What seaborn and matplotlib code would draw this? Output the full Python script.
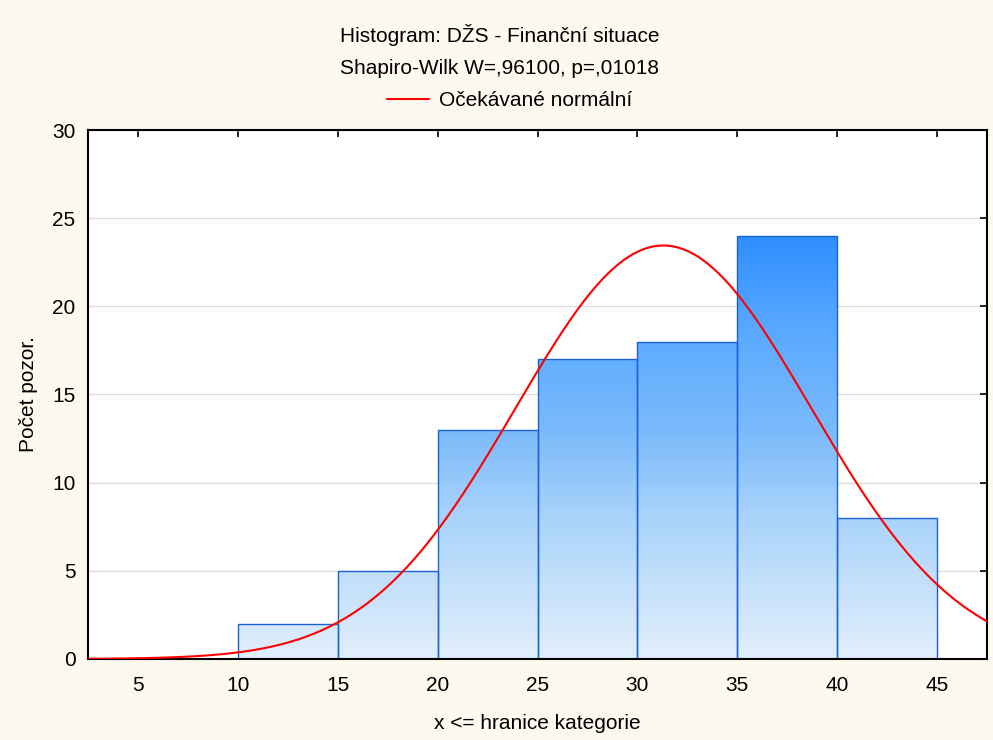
import numpy as np
import seaborn as sns
import matplotlib.pyplot as plt
from matplotlib.colors import LinearSegmentedColormap

# category upper bounds and counts
bin_edges = [10, 15, 20, 25, 30, 35, 40, 45]
counts = [2, 5, 13, 17, 18, 24, 8]
bin_centers = [12.5, 17.5, 22.5, 27.5, 32.5, 37.5, 42.5]

# expected normal curve parameters (estimated)
fit_mean = 31.3
fit_sd = 7.4

x_ticks = [5, 10, 15, 20, 25, 30, 35, 40, 45]
y_ticks = [0, 5, 10, 15, 20, 25, 30]

bg = "#FDF9EF"
fs = 15

sns.set_style("white")
plt.rcParams["font.family"] = ["Liberation Sans", "DejaVu Sans"]
plt.rcParams["text.color"] = "black"

fig = plt.figure(figsize=(9.93, 7.40), dpi=100, facecolor=bg)
ax = fig.add_axes([0.0886, 0.1095, 0.9054, 0.7148])
ax.set_facecolor("white")

sns.histplot(x=bin_centers, weights=counts, bins=bin_edges, ax=ax,
             stat="count", element="bars", fill=True,
             facecolor="none", edgecolor="#1C62D6", linewidth=1.0)

# vertical gradient fill by height, clipped to each bar
cmap = LinearSegmentedColormap.from_list(
    "blues",
    [(0.0, "#E2EFFC"), (8 / 24, "#A9D3FA"), (13 / 24, "#7ABAFB"),
     (18 / 24, "#5EABFF"), (1.0, "#2F8FFF")])
grad = np.linspace(0, 1, 256).reshape(-1, 1)
for p in ax.patches:
    img = ax.imshow(grad, cmap=cmap, origin="lower", aspect="auto",
                    extent=[2.5, 47.5, 0, 24], zorder=1.5, interpolation="bicubic")
    img.set_clip_path(p)
    p.set_zorder(2)

n = sum(counts)
width = 5
xs = np.linspace(2.5, 47.5, 400)
ys = n * width / (fit_sd * np.sqrt(2 * np.pi)) * np.exp(-0.5 * ((xs - fit_mean) / fit_sd) ** 2)
sns.lineplot(x=xs, y=ys, ax=ax, color="#FF0000", linewidth=1.5, zorder=3,
             label="Očekávané normální")

ax.set_xlim(2.5, 47.5)
ax.set_ylim(0, 30)
ax.set_xticks(x_ticks)
ax.set_yticks(y_ticks)
ax.yaxis.grid(True, color="#DDDDDD", linewidth=1)
ax.set_axisbelow(True)
ax.tick_params(direction="in", length=5, width=1.2, top=True, right=True,
               labelsize=fs, colors="black")
ax.tick_params(axis="x", pad=12)
ax.tick_params(axis="y", pad=9)
for s in ax.spines.values():
    s.set_visible(True)
    s.set_color("black")
    s.set_linewidth(1.5)

ax.set_xlabel("x <= hranice kategorie", fontsize=fs, labelpad=14, color="black")
ax.set_ylabel("Počet pozor.", fontsize=fs, labelpad=10, color="black")

fig.text(0.503, 0.953, "Histogram: DŽS - Finanční situace", ha="center", va="center", fontsize=fs)
fig.text(0.503, 0.907, "Shapiro-Wilk W=,96100, p=,01018", ha="center", va="center", fontsize=fs)
ax.legend(loc="center", bbox_to_anchor=(0.469, 1.056), frameon=False,
          fontsize=fs, handlelength=2.0, handletextpad=0.5)

fig.savefig("out.png", dpi=100, facecolor=bg)
